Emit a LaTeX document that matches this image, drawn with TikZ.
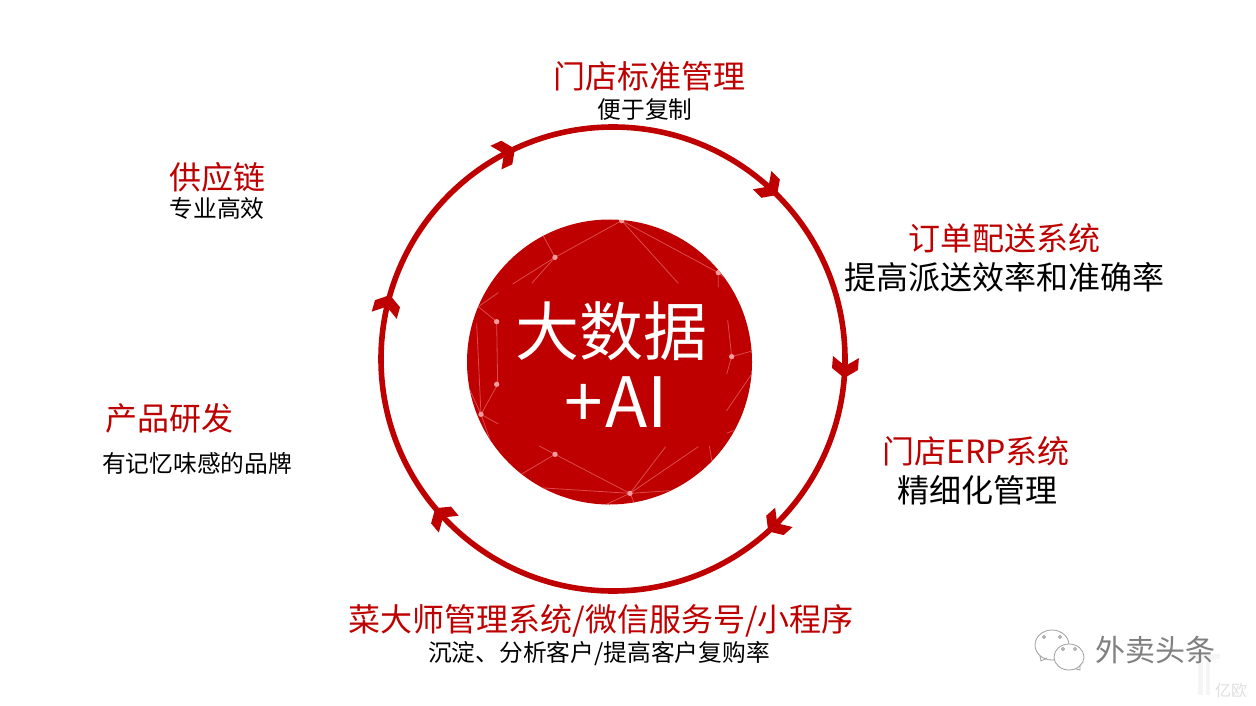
\documentclass[tikz,border=0pt]{standalone}
\usepackage{fontspec}
\setmainfont{Noto Sans CJK SC}
\definecolor{brand}{HTML}{BE0000}
\definecolor{netline}{HTML}{DC4A4C}
\definecolor{netdot}{HTML}{F49A9C}
\newcommand{\chev}[1]{%
  \fill[brand,shift={({613+232*cos(#1)},{359-232*sin(#1)})},rotate=#1-180]
    (0,0) -- (13,9) -- (13,21) -- (0,12) -- (-13,21) -- (-13,9) -- cycle;}
\tikzset{
  every node/.style={inner sep=0pt,outer sep=0pt,align=center},
  head/.style={text=brand,font=\fontsize{24}{28}\selectfont},
  subl/.style={text=black,font=\fontsize{24}{28}\selectfont},
  subs/.style={text=black,font=\fontsize{17.8}{22}\selectfont},
  net/.style={netline,line width=0.6pt},
  ring/.style={brand,line width=4.2pt},
  wm/.style={draw=black!38,line width=0.6pt,fill=none},
}
\begin{document}
\begin{tikzpicture}[x=0.75pt,y=-0.75pt]
\useasboundingbox[fill=white] (0,0) rectangle (1256,706);
% ring
\draw[ring] (613,359) circle[radius=232];
\foreach \a in {115,45,-4.7,-48,220,164}{\chev{\a}}
% centre disc
\fill[brand] (609.5,362) circle[radius=142.5];
\begin{scope}
\clip (609.5,362) circle[radius=142.5];
\begin{scope}[shift={(450,200)},x=0.25pt,y=-0.25pt]
\draw[net] (515,62) -- (315,172) -- (188,252);
\draw[net] (315,172) -- (245,250);
\draw[net] (315,172) -- (280,108);
\draw[net] (515,62) -- (685,250);
\draw[net] (515,62) -- (805,218) -- (805,262);
\draw[net] (805,218) -- (905,300);
\draw[net] (85,320) -- (140,365) -- (143,553) -- (93,643);
\draw[net] (85,320) -- (145,278);
\draw[net] (80,370) -- (93,643) -- (145,672);
\draw[net] (55,560) -- (93,643) -- (120,720);
\draw[net] (833,360) -- (845,470) -- (830,522);
\draw[net] (845,470) -- (910,452);
\draw[net] (830,632) -- (910,515);
\draw[net] (830,700) -- (880,680);
\draw[net] (778,738) -- (786,785);
\draw[net] (268,738) -- (315,763) -- (540,880);
\draw[net] (315,763) -- (215,822);
\draw[net] (250,862) -- (540,880) -- (660,872);
\draw[net] (540,880) -- (647,740);
\draw[net] (540,880) -- (745,740);
\draw[net] (540,880) -- (465,915);
\draw[net] (540,880) -- (556,915);
\foreach \p in {(315,172),(515,62),(805,218),(140,365),(140,553),(93,643),(315,763),(540,880),(845,470)}
  \fill[netdot] \p circle[radius=8];
\end{scope}
\end{scope}
% centre text
\node[text=white,font=\fontsize{48}{54}\selectfont] (bigdata) at (611,331) {大数据};
\node[text=white,font=\fontsize{52}{58}\selectfont] (ai) at (616,402) {+\hspace{2pt}AI};
% labels
\node[head] (t1) at (649,76) {门店标准管理};
\node[subs] (s1) at (645,110) {便于复制};
\node[head] (t2) at (1004,238) {订单配送系统};
\node[subl] (s2) at (1004,277) {提高派送效率和准确率};
\node[head] (t3) at (976,451) {门店ERP系统};
\node[subl] (s3) at (977,490) {精细化管理};
\node[head] (t4) at (601,621) {菜大师管理系统/微信服务号/小程序};
\node[subs] (s4) at (599,654) {沉淀、分析客户/提高客户复购率};
\node[head] (t5) at (169,418) {产品研发};
\node[subs] (s5) at (197,463) {有记忆味感的品牌};
\node[head] (t6) at (217,177) {供应链};
\node[subs] (s6) at (217,208) {专业高效};
% watermark
\fill[black!4] (1198,658) rectangle (1203,695);
\fill[black!4] (1206,660) rectangle (1210,695);
\fill[black!4] (1190,654) rectangle (1220,659);
\node[text=black!12,font=\fontsize{12}{14}\selectfont] (yiou) at (1231,690) {亿欧};
\draw[wm] (1052,645) circle[x radius=17,y radius=15];
\draw[wm,fill=white] (1069,657) circle[x radius=15,y radius=13];
\draw[wm] (1040,656) -- (1041,661) -- (1047,658);
\draw[wm] (1076,669) -- (1080,670) -- (1080,665);
\foreach \p in {(1044,637),(1060,637),(1063,649),(1075,649)}
  \draw[wm] \p circle[radius=1.5];
\node[text=black!50,font=\fontsize{22.5}{26}\selectfont] (wmtext) at (1155,650) {外卖头条};
\end{tikzpicture}
\end{document}
